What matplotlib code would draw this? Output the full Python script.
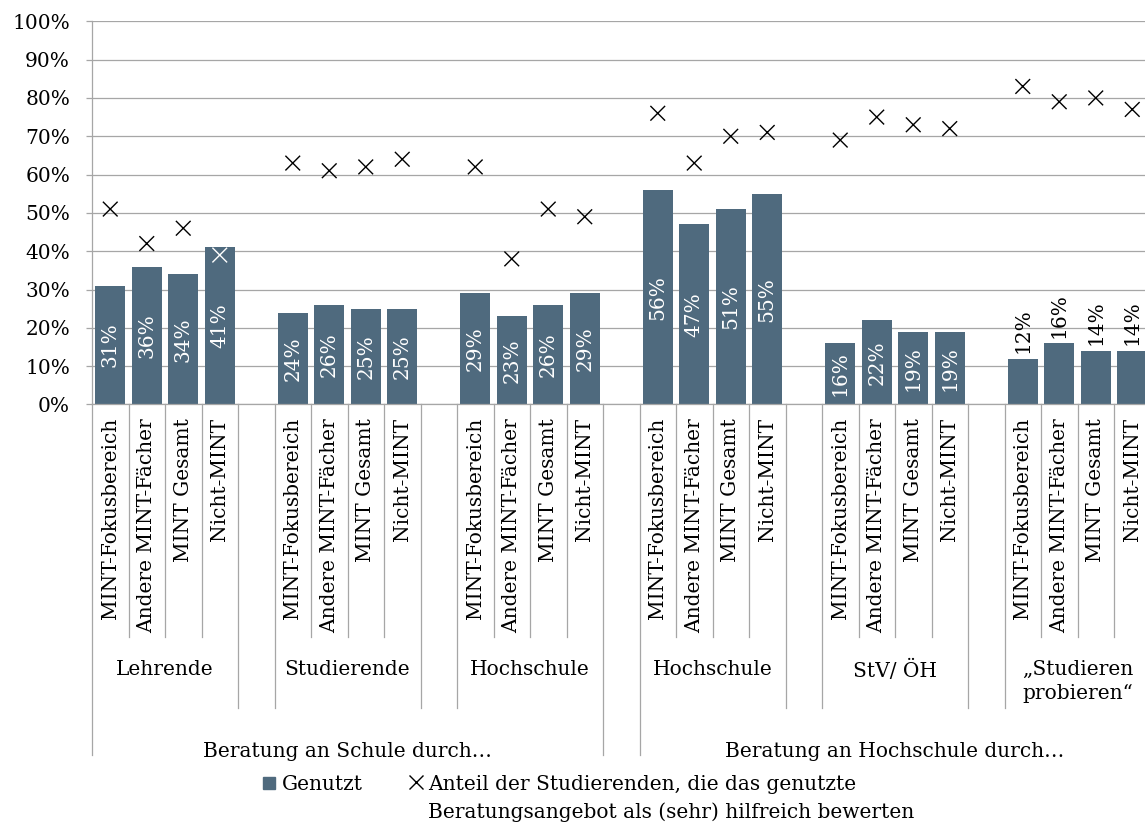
import matplotlib
matplotlib.use("Agg")
import matplotlib.pyplot as plt
from matplotlib.lines import Line2D
from matplotlib.patches import Rectangle
from matplotlib.transforms import blended_transform_factory

# ---------------- data ----------------
sub_labels = ["MINT-Fokusbereich", "Andere MINT-Fächer", "MINT Gesamt", "Nicht-MINT"]
group_labels = ["Lehrende", "Studierende", "Hochschule",
                "Hochschule", "StV/ ÖH", "„Studieren\nprobieren“"]
top_labels = ["Beratung an Schule durch…", "Beratung an Hochschule durch…"]
top_group_members = [[0, 1, 2], [3, 4, 5]]

genutzt = [
    [31, 36, 34, 41],
    [24, 26, 25, 25],
    [29, 23, 26, 29],
    [56, 47, 51, 55],
    [16, 22, 19, 19],
    [12, 16, 14, 14],
]
hilfreich = [
    [51, 42, 46, 39],
    [63, 61, 62, 64],
    [62, 38, 51, 49],
    [76, 63, 70, 71],
    [69, 75, 73, 72],
    [83, 79, 80, 77],
]
y_ticks = [0, 10, 20, 30, 40, 50, 60, 70, 80, 90, 100]
legend_bar = "Genutzt"
legend_cross = ["Anteil der Studierenden, die das genutzte",
                "Beratungsangebot als (sehr) hilfreich bewerten"]

# ---------------- style ----------------
W, H = 1145, 822
BAR_COLOR = "#4F6A7E"
GRID_COLOR = "#A6A6A6"
FS = 14.5
plt.rcParams["font.family"] = ["DejaVu Serif"]
plt.rcParams["text.color"] = "black"

fig = plt.figure(figsize=(W / 100, H / 100), dpi=100)
slot_px = 36.5
n_groups = len(genutzt)
n_sub = len(sub_labels)
n_slots = n_groups * (n_sub + 1) - 1
ax_left, ax_top, ax_bottom = 92, 21.3, 404.5
ax = fig.add_axes([ax_left / W, 1 - ax_bottom / H,
                   n_slots * slot_px / W, (ax_bottom - ax_top) / H])


def fy(py):
    return 1 - py / H


def fx(px):
    return px / W


# positions
positions = []
for g in range(n_groups):
    positions.append([g * (n_sub + 1) + j + 0.5 for j in range(n_sub)])

for g in range(n_groups):
    bars = ax.bar(positions[g], genutzt[g], width=0.81, color=BAR_COLOR,
                  zorder=2, linewidth=0)
    outside = (g == n_groups - 1)
    ax.bar_label(bars, labels=[f"{v}%" for v in genutzt[g]],
                 label_type="edge" if outside else "center",
                 padding=4 if outside else 0, rotation=90,
                 color="black" if outside else "white", fontsize=FS)
    cols = ["white" if c < b else "black" for c, b in zip(hilfreich[g], genutzt[g])]
    ax.scatter(positions[g], hilfreich[g], marker="x", s=10.6 ** 2,
               linewidths=1.0, c=cols, zorder=3)

ax.set_xlim(0, n_slots)
ax.set_ylim(0, 100)
ax.set_yticks(y_ticks)
ax.set_yticklabels([f"{v}%" for v in y_ticks], fontsize=FS)
ax.yaxis.grid(True, color=GRID_COLOR, linewidth=0.9, zorder=0)
ax.set_axisbelow(True)
ax.tick_params(axis="y", length=4.3, width=0.9, color=GRID_COLOR, pad=11.5)

all_pos = [p for grp in positions for p in grp]
all_lab = [l for _ in range(n_groups) for l in sub_labels]
ax.set_xticks(all_pos)
ax.set_xticklabels(all_lab, rotation=90, fontsize=FS, va="top")
ax.tick_params(axis="x", length=0, pad=9.7)

for s in ["top", "right"]:
    ax.spines[s].set_visible(False)
for s in ["left", "bottom"]:
    ax.spines[s].set_color(GRID_COLOR)
    ax.spines[s].set_linewidth(0.9)

# multi-level category axis separators
tr = blended_transform_factory(ax.transData, fig.transFigure)
group_bounds = set()
top_bounds = set()
for g in range(n_groups):
    start = g * (n_sub + 1)
    group_bounds.update([start, start + n_sub])
    if g < n_groups - 1:
        group_bounds.add(start + n_sub + 1)
for members in top_group_members:
    top_bounds.add(members[0] * (n_sub + 1))
    top_bounds.add(members[-1] * (n_sub + 1) + n_sub)

for xb in range(n_slots + 1):
    if xb in top_bounds:
        yend = 755
    elif xb in group_bounds:
        yend = 708
    else:
        yend = 637
    ax.add_line(Line2D([xb, xb], [fy(ax_bottom), fy(yend)], transform=tr,
                       color=GRID_COLOR, linewidth=0.9, clip_on=False))

for g in range(n_groups):
    cx = g * (n_sub + 1) + n_sub / 2
    ax.text(cx, fy(660), group_labels[g], transform=tr, ha="center",
            va="top", fontsize=FS, linespacing=1.3, multialignment="center")

for t, members in zip(top_labels, top_group_members):
    x0 = members[0] * (n_sub + 1)
    x1 = members[-1] * (n_sub + 1) + n_sub
    ax.text((x0 + x1) / 2, fy(742), t, transform=tr, ha="center", va="top",
            fontsize=FS)

# legend (drawn manually to match the layout)
fig.add_artist(Rectangle((fx(263), fy(789)), 12 / W, 12 / H,
                         transform=fig.transFigure, color=BAR_COLOR))
fig.text(fx(282), fy(790), legend_bar, fontsize=FS, va="baseline")
fig.add_artist(Line2D([fx(415.5)], [fy(782)], transform=fig.transFigure,
                      marker="x", markersize=10.6, markeredgewidth=1.0,
                      color="black", linestyle="none"))
fig.text(fx(428), fy(790), legend_cross[0], fontsize=FS, va="baseline")
fig.text(fx(428), fy(818), legend_cross[1], fontsize=FS, va="baseline")

fig.savefig("out.png", dpi=100)
